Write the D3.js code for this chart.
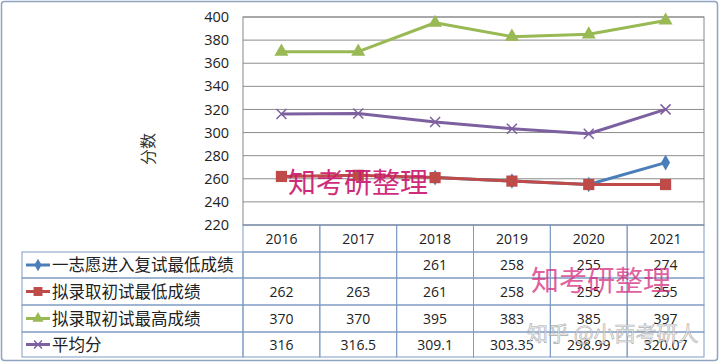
<!DOCTYPE html>
<html><head><meta charset="utf-8">
<script src="https://cdn.jsdelivr.net/npm/d3@7"></script>
<style>
html,body{margin:0;padding:0;background:#fff;}
svg{display:block;font-family:"Open Sans","Noto Sans","Noto Sans CJK SC",sans-serif;}
</style></head>
<body><svg id="c" width="720" height="364"></svg>
<script>
const years = ["2016","2017","2018","2019","2020","2021"];
const seriesNames = ["一志愿进入复试最低成绩","拟录取初试最低成绩","拟录取初试最高成绩","平均分"];
const firstChoiceMin = [null,null,261,258,255,274];
const admitMin = [262,263,261,258,255,255];
const admitMax = [370,370,395,383,385,397];
const average = [316,316.5,309.1,303.35,298.99,320.07];
const tableText = [
  ["","","261","258","255","274"],
  ["262","263","261","258","255","255"],
  ["370","370","395","383","385","397"],
  ["316","316.5","309.1","303.35","298.99","320.07"]
];
const yTicks = [220,240,260,280,300,320,340,360,380,400];
const colors = ["#4a7ebb","#be4b48","#98b954","#7d60a0"];
const markers = ["diamond","square","triangle","x"];
const allSeries = [firstChoiceMin, admitMin, admitMax, average];

const svg = d3.select("#c");
const L = 243, R = 704, T = 17, B = 225;
const x = d3.scaleBand().domain(years).range([L, R]);
const y = d3.scaleLinear().domain([220,400]).range([B, T]);

svg.append("rect").attr("x",1.5).attr("y",1.5).attr("width",716).attr("height",359)
  .attr("rx",3).attr("fill","#fff").attr("stroke","#8ea4c0").attr("stroke-width",1.5);

svg.append("rect").attr("x",L).attr("y",T).attr("width",R-L).attr("height",B-T)
  .attr("fill","none").attr("stroke","#888").attr("stroke-width",1);

svg.append("g").selectAll("line").data(yTicks).join("line")
  .attr("x1",L).attr("x2",R).attr("y1",d=>y(d)).attr("y2",d=>y(d))
  .attr("stroke","#8c8c8c").attr("stroke-width",1);

const yAxis = d3.axisLeft(y).tickValues(yTicks).tickSize(0).tickPadding(14);
const ya = svg.append("g").attr("transform",`translate(${L},0)`).call(yAxis);
ya.select(".domain").remove();
ya.selectAll("text").attr("font-size",14.5).attr("fill","#222")
  .attr("font-family","'Open Sans','Noto Sans',sans-serif");

svg.append("text").attr("transform","translate(154,149) rotate(-90)")
  .attr("text-anchor","middle").attr("font-size",16).attr("fill","#333")
  .attr("font-family","'Noto Sans CJK SC',sans-serif").text("分数");

const rowY = [225,252,278,305,332,357];
const tableLeft = 22;
const tg = svg.append("g");
const tblStroke = "#7f9bc4";
years.forEach((yr)=>{
  tg.append("rect").attr("x",x(yr)).attr("y",rowY[0]).attr("width",x.bandwidth()).attr("height",rowY[1]-rowY[0])
    .attr("fill","none").attr("stroke",tblStroke);
  tg.append("text").attr("x",x(yr)+x.bandwidth()/2).attr("y",(rowY[0]+rowY[1])/2+5)
    .attr("text-anchor","middle").attr("font-size",14).attr("fill","#222").text(yr);
});
seriesNames.forEach((name,i)=>{
  const y0 = rowY[i+1], y1 = rowY[i+2];
  tg.append("rect").attr("x",tableLeft).attr("y",y0).attr("width",L-tableLeft).attr("height",y1-y0)
    .attr("fill","none").attr("stroke",tblStroke);
  years.forEach((yr,j)=>{
    tg.append("rect").attr("x",x(yr)).attr("y",y0).attr("width",x.bandwidth()).attr("height",y1-y0)
      .attr("fill","none").attr("stroke",tblStroke);
    if (tableText[i][j]) tg.append("text").attr("x",x(yr)+x.bandwidth()/2).attr("y",(y0+y1)/2+5)
      .attr("text-anchor","middle").attr("font-size",14).attr("fill","#222").text(tableText[i][j]);
  });
  const cy = (y0+y1)/2;
  tg.append("line").attr("x1",26).attr("x2",50).attr("y1",cy).attr("y2",cy)
    .attr("stroke",colors[i]).attr("stroke-width",3);
  drawMarker(tg, markers[i], 38, cy, colors[i], 0.8);
  tg.append("text").attr("x",52).attr("y",cy+6).attr("font-size",16.5).attr("fill","#222")
    .attr("font-family","'Noto Sans CJK SC',sans-serif").text(name);
});

function drawMarker(g, type, cx, cy, color, s){
  s = s||1;
  if (type==="diamond"){
    g.append("path").attr("d",d3.symbol(d3.symbolDiamond, 70*s*s)()).attr("transform",`translate(${cx},${cy})`).attr("fill",color);
  } else if (type==="square"){
    g.append("path").attr("d",d3.symbol(d3.symbolSquare, 125*s*s)()).attr("transform",`translate(${cx},${cy})`).attr("fill",color);
  } else if (type==="triangle"){
    g.append("path").attr("d",d3.symbol(d3.symbolTriangle, 85*s*s)()).attr("transform",`translate(${cx},${cy})`).attr("fill",color);
  } else {
    const r=5*s;
    g.append("path").attr("d",`M${cx-r},${cy-r}L${cx+r},${cy+r}M${cx-r},${cy+r}L${cx+r},${cy-r}`)
      .attr("stroke",color).attr("stroke-width",1.5).attr("fill","none");
  }
}

const line = d3.line().defined(d=>d.v!=null).x(d=>x(d.k)+x.bandwidth()/2).y(d=>y(d.v));
allSeries.forEach((vals,i)=>{
  const data = years.map((k,j)=>({k,v:vals[j]}));
  svg.append("path").datum(data).attr("d",line).attr("fill","none")
    .attr("stroke",colors[i]).attr("stroke-width",3).attr("stroke-linejoin","round");
  const mg = svg.append("g");
  data.filter(d=>d.v!=null).forEach(d=>drawMarker(mg, markers[i], x(d.k)+x.bandwidth()/2, y(d.v), colors[i], 1));
});

svg.append("text").attr("x",288).attr("y",193).attr("font-size",28).attr("fill","#cc1a72")
  .attr("font-family","'Noto Sans CJK SC',sans-serif").attr("opacity",0.92).text("知考研整理");
svg.append("text").attr("x",531).attr("y",291).attr("font-size",28).attr("fill","#d4257a")
  .attr("font-family","'Noto Sans CJK SC',sans-serif").attr("opacity",0.72).text("知考研整理");
svg.append("text").attr("x",527).attr("y",341).attr("font-size",21).attr("fill","#f0f0f0")
  .attr("stroke","#9a9a9a").attr("stroke-width",0.6)
  .attr("font-family","'Noto Sans CJK SC',sans-serif").attr("opacity",0.8).text("知乎 @小西考研人");
</script></body></html>
